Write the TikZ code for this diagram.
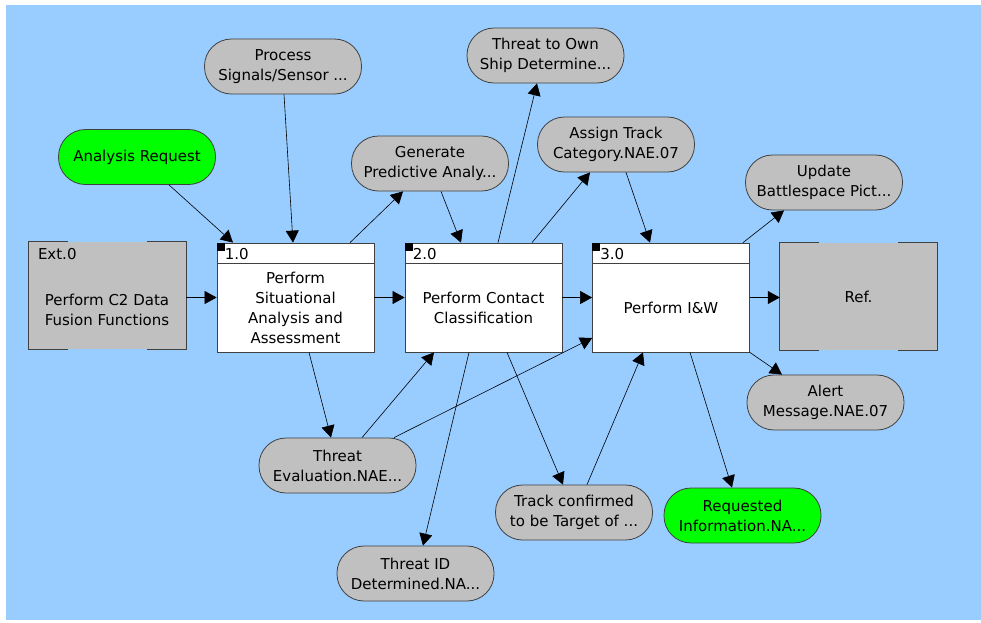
\documentclass[tikz,border=0pt]{standalone}
\usepackage{fontspec}
\setmainfont{DejaVu Sans}
\usetikzlibrary{arrows.meta}

\definecolor{skyBg}{HTML}{99CCFF}
\definecolor{boxGray}{HTML}{C0C0C0}
\definecolor{edgeGray}{HTML}{404040}
\definecolor{flagGreen}{HTML}{00FF00}

\tikzset{
  every node/.style={font=\fontsize{15pt}{20pt}\selectfont},
  procbox/.style={draw=edgeGray, line width=0.8pt, fill=white,
    minimum width=157pt, minimum height=109pt, inner sep=0pt},
  extbox/.style={fill=boxGray, minimum width=157pt, minimum height=107pt, inner sep=0pt},
  databox/.style={draw=edgeGray, line width=0.8pt, fill=boxGray, rounded corners=27pt,
    minimum width=157pt, minimum height=55pt, inner sep=0pt, align=center},
  greenbox/.style={databox, fill=flagGreen},
  flow/.style={-{Triangle[length=12pt,width=13pt]}, line width=0.6pt},
}

% corner brackets of an external box
\newcommand{\extFrame}[1]{%
  \draw[edgeGray, line width=0.8pt]
    ([xshift=39pt]#1.north west) -- (#1.north west) -- (#1.south west) -- ([xshift=39pt]#1.south west);
  \draw[edgeGray, line width=0.8pt]
    ([xshift=-39pt]#1.north east) -- (#1.north east) -- (#1.south east) -- ([xshift=-39pt]#1.south east);
}

% header strip of a process box
\newcommand{\procHead}[2]{%
  \draw[edgeGray, line width=0.8pt] ([yshift=-21pt]#1.north west) -- ([yshift=-21pt]#1.north east);
  \fill (#1.north west) rectangle ++(8pt,-8pt);
  \node[anchor=west, inner sep=0pt] (#1num) at ([xshift=8pt,yshift=-11pt]#1.north west) {#2};
}

\begin{document}
\begin{tikzpicture}[x=1pt, y=-1pt]

\useasboundingbox (0,0) rectangle (981,622);

% Background
\fill[skyBg] (6,5) rectangle (981,620);

% External boxes
\node[extbox] (ext) at (107.5,295.5) {};
\extFrame{ext}
\node[anchor=west, inner sep=0pt] (extnum) at ([xshift=9pt,yshift=-12pt]ext.north west) {Ext.0};
\node[align=center] (exttxt) at (107,310) {Perform C2 Data\\Fusion Functions};

\node[extbox] (ref) at (858.5,296.5) {};
\extFrame{ref}
\node (reftxt) at (ref.center) {Ref.};

% Process boxes
\node[procbox] (p1) at (295.5,297.5) {};
\procHead{p1}{1.0}
\node[align=center] (p1txt) at ([yshift=-10.5pt]p1.center) {Perform\\Situational\\Analysis and\\Assessment};

\node[procbox] (p2) at (483.5,297.5) {};
\procHead{p2}{2.0}
\node[align=center] (p2txt) at ([yshift=-10.5pt]p2.center) {Perform Contact\\Classification};

\node[procbox] (p3) at (671,297.5) {};
\procHead{p3}{3.0}
\node (p3txt) at ([yshift=-10.5pt]p3.center) {Perform I\&W};

% Inputs and outputs
\node[databox] (sig) at (283,66.5) {Process\\Signals/Sensor ...};
\node[greenbox] (areq) at (137,157) {Analysis Request};
\node[databox] (gen) at (430,163.5) {Generate\\Predictive Analy...};
\node[databox] (own) at (545.5,55.5) {Threat to Own\\Ship Determine...};
\node[databox] (cat) at (616,144.5) {Assign Track\\Category.NAE.07};
\node[databox] (upd) at (824,182.5) {Update\\Battlespace Pict...};
\node[databox] (alert) at (825.5,402.5) {Alert\\Message.NAE.07};
\node[greenbox] (reqinfo) at (742.5,515.5) {Requested\\Information.NA...};
\node[databox] (teval) at (337.5,465.5) {Threat\\Evaluation.NAE...};
\node[databox] (trk) at (574,512.5) {Track confirmed\\to be Target of ...};
\node[databox] (tid) at (415.5,573.5) {Threat ID\\Determined.NA...};

% Flows along the chain
\draw[flow] (ext.east |- p1.west) -- (p1.west);
\draw[flow] (p1.east) -- (p2.west);
\draw[flow] (p2.east) -- (p3.west);
\draw[flow] (p3.east) -- (p3.east -| ref.west);

% Flows into and out of 1.0
\draw[flow] ([xshift=32pt]areq.south) -- ([xshift=-62.5pt]p1.north);
\draw[flow] ([xshift=1pt]sig.south) -- ([xshift=-2.5pt]p1.north);
\draw[flow] ([xshift=54.5pt]p1.north) -- ([xshift=-27pt]gen.south);
\draw[flow] ([xshift=13.5pt]p1.south) -- ([xshift=-6.5pt]teval.north);

% Flows into and out of 2.0
\draw[flow] ([xshift=11pt]gen.south) -- ([xshift=-22.5pt]p2.north);
\draw[flow] ([xshift=14.5pt]p2.north) -- ([xshift=-8.5pt]own.south);
\draw[flow] ([xshift=48.5pt]p2.north) -- ([xshift=-26pt]cat.south);
\draw[flow] ([xshift=24.5pt]teval.north) -- ([xshift=-49.5pt]p2.south);
\draw[flow] ([xshift=-14.5pt]p2.south) -- ([xshift=7.5pt]tid.north);
\draw[flow] ([xshift=23.5pt]p2.south) -- ([xshift=-11pt]trk.north);

% Flows into and out of 3.0
\draw[flow] ([xshift=10pt]cat.south) -- ([xshift=-21pt]p3.north);
\draw[flow] ([xshift=56.5pt]teval.north) -- ([yshift=-40.5pt]p3.west);
\draw[flow] ([xshift=13pt]trk.north) -- ([xshift=-28pt]p3.south);
\draw[flow] ([xshift=72pt]p3.north) -- ([xshift=-40pt]upd.south);
\draw[flow] (p3.south east) -- ([xshift=-43.5pt]alert.north);
\draw[flow] ([xshift=19pt]p3.south) -- ([xshift=-10.5pt]reqinfo.north);

\end{tikzpicture}
\end{document}
